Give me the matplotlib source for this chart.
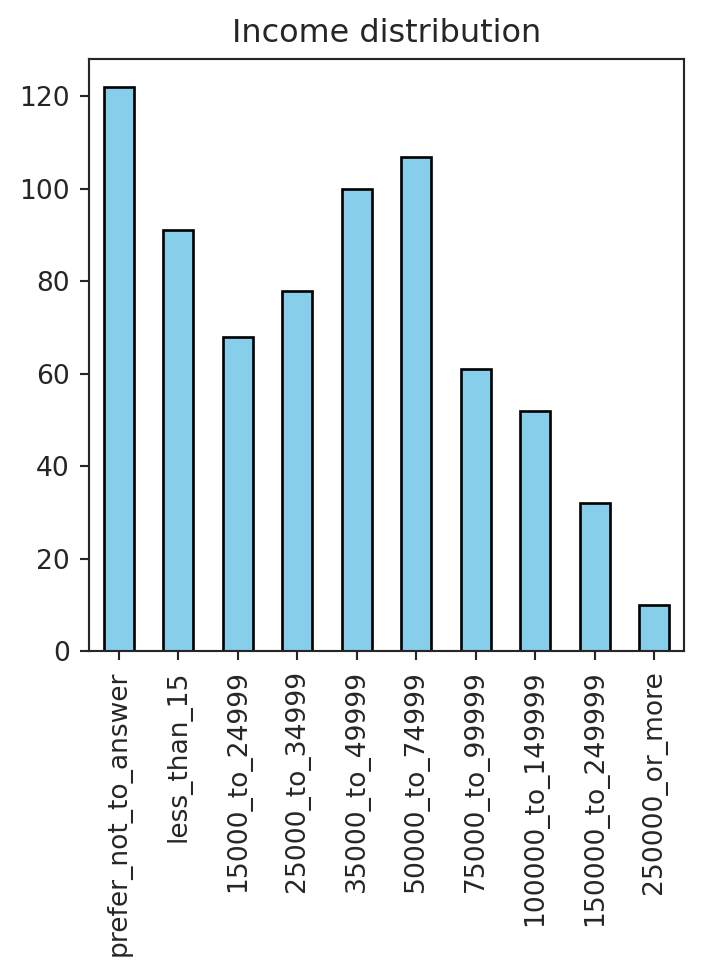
import matplotlib
matplotlib.use("Agg")
import matplotlib.pyplot as plt
import seaborn as sns

categories = ["prefer_not_to_answer", "less_than_15", "15000_to_24999", "25000_to_34999",
              "35000_to_49999", "50000_to_74999", "75000_to_99999", "100000_to_149999",
              "150000_to_249999", "250000_or_more"]
counts = [122, 91, 68, 78, 100, 107, 61, 52, 32, 10]

sns.set_style("ticks")
scale = 0.956
plt.rcParams["font.size"] = 10 * scale

fig = plt.figure(figsize=(703 / 200, 976 / 200), dpi=200)
ax = fig.add_axes([89 / 703, 1 - 651 / 976, (684 - 89) / 703, (651 - 59) / 976])

x = range(len(categories))
ax.bar(x, counts, width=0.5, color="skyblue", edgecolor="black", linewidth=1.0 * scale)
ax.set_xticks(list(x))
ax.set_xticklabels(categories, rotation=90)
ax.tick_params(labelsize=10 * scale, width=0.8 * scale, length=3.5 * scale)
for s in ax.spines.values():
    s.set_linewidth(0.8 * scale)
ax.set_xlim(-0.5, len(categories) - 0.5)
ax.set_ylim(0, max(counts) * 1.05)
ax.set_title("Income distribution", fontsize=12 * scale)

fig.savefig("out.png", dpi=200)
